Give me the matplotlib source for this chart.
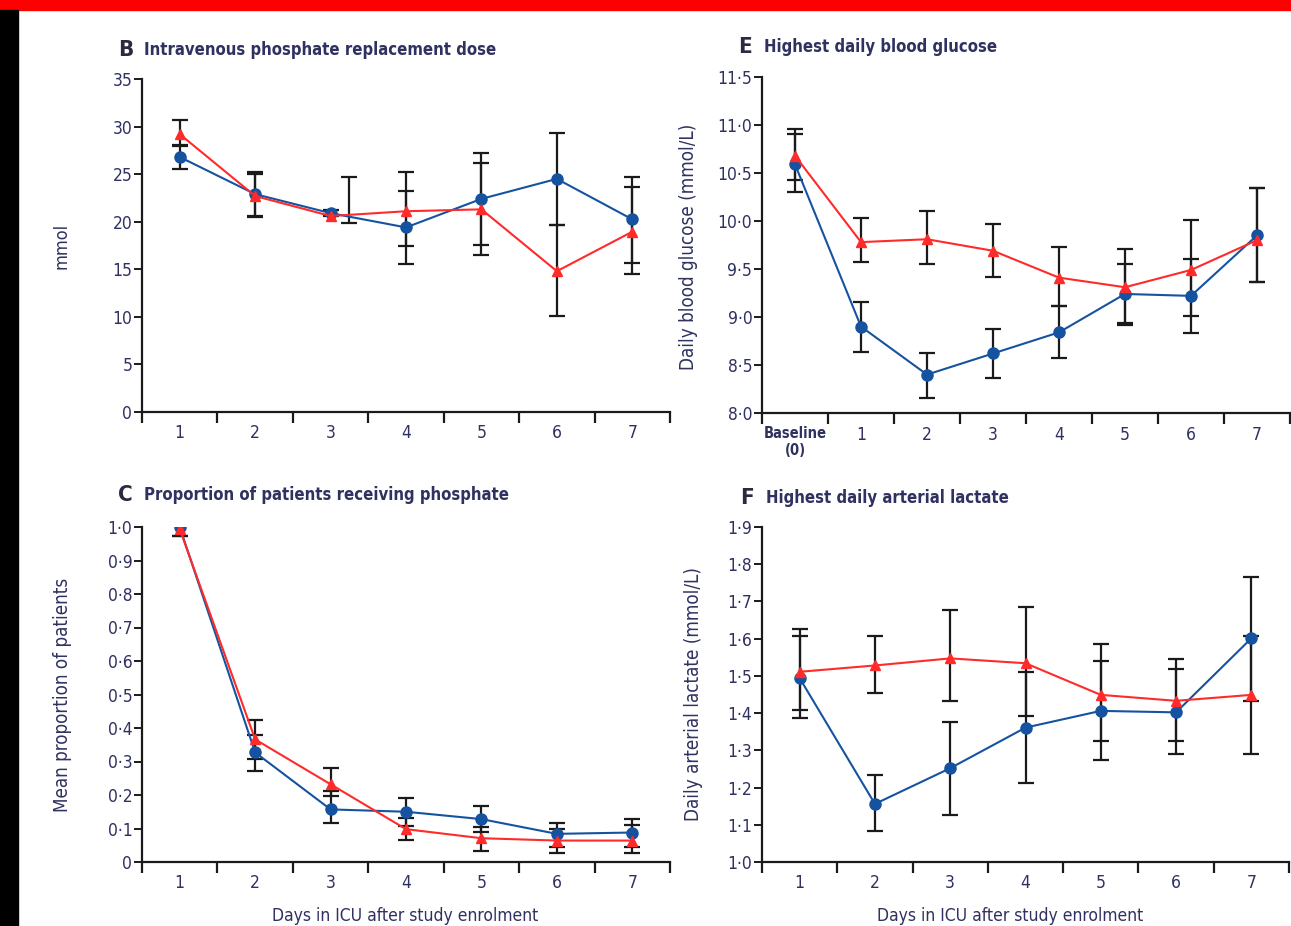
import numpy as np
import matplotlib
matplotlib.use("Agg")
import matplotlib.pyplot as plt
from matplotlib.patches import Rectangle
from matplotlib.ticker import FixedLocator, FuncFormatter

plt.rcParams["font.family"] = ["DejaVu Sans"]
plt.rcParams["font.stretch"] = "condensed"

BLUE = "#1553a0"
RED = "#ff2a2a"
TXT = "#2f3160"

# ---------- data ---------------------------------------------------------
days = [1, 2, 3, 4, 5, 6, 7]
days_e = [0, 1, 2, 3, 4, 5, 6, 7]
e_labels = ["Baseline\n(0)", "1", "2", "3", "4", "5", "6", "7"]

# B  Intravenous phosphate replacement dose (mmol)
b_blue = [26.8, 22.9, 20.9, 19.4, 22.4, 24.5, 20.25]
b_blue_lo = [25.5, 20.6, 20.6, 15.6, 17.6, 19.7, 15.7]
b_blue_hi = [28.1, 25.2, 21.2, 23.2, 27.2, 29.3, 24.7]
b_red = [29.2, 22.7, 20.6, 21.1, 21.3, 14.8, 18.95]
b_red_lo = [28.0, 20.5, 19.9, 17.4, 16.5, 10.1, 14.5]
b_red_hi = [30.7, 25.0, 24.7, 25.2, 26.2, 19.7, 23.6]
b_red_dx = [0, 0, 0.25, 0, 0, 0, 0]

# E  Highest daily blood glucose (mmol/L)
e_blue = [10.59, 8.90, 8.40, 8.62, 8.84, 9.24, 9.22, 9.85]
e_blue_lo = [10.30, 8.64, 8.16, 8.36, 8.57, 8.94, 8.83, 9.36]
e_blue_hi = [10.905, 9.16, 8.63, 8.87, 9.11, 9.555, 9.60, 10.34]
e_red = [10.68, 9.78, 9.81, 9.69, 9.41, 9.31, 9.49, 9.80]
e_red_lo = [10.43, 9.575, 9.555, 9.42, 9.11, 8.92, 9.007, 9.36]
e_red_hi = [10.957, 10.03, 10.10, 9.97, 9.727, 9.71, 10.015, 10.34]

# C  Proportion of patients receiving phosphate
c_blue = [1.0, 0.327, 0.157, 0.150, 0.128, 0.084, 0.088]
c_blue_lo = [0.973, 0.273, 0.117, 0.107, 0.090, 0.046, 0.046]
c_blue_hi = [1.019, 0.379, 0.213, 0.190, 0.167, 0.115, 0.127]
c_red = [0.994, 0.366, 0.232, 0.098, 0.071, 0.064, 0.064]
c_red_lo = [0.973, 0.308, 0.197, 0.066, 0.034, 0.028, 0.028]
c_red_hi = [1.019, 0.424, 0.2795, 0.130, 0.105, 0.100, 0.110]

# F  Highest daily arterial lactate (mmol/L)
f_blue = [1.494, 1.156, 1.252, 1.361, 1.406, 1.402, 1.601]
f_blue_lo = [1.386, 1.082, 1.126, 1.211, 1.274, 1.290, 1.433]
f_blue_hi = [1.607, 1.234, 1.377, 1.511, 1.540, 1.518, 1.767]
f_red = [1.511, 1.528, 1.547, 1.534, 1.449, 1.433, 1.449]
f_red_lo = [1.408, 1.455, 1.433, 1.392, 1.326, 1.326, 1.290]
f_red_hi = [1.625, 1.607, 1.677, 1.686, 1.585, 1.545, 1.607]


def lancet_fmt(decimals):
    def f(v, pos):
        if abs(v) < 1e-9:
            return "0"
        return f"{v:.{decimals}f}".replace(".", "\u00b7")
    return FuncFormatter(f)


def draw_panel(ax, x, blue, blo, bhi, red, rlo, rhi, rdx=None):
    x = np.asarray(x, dtype=float)
    blue, blo, bhi = map(np.asarray, (blue, blo, bhi))
    red, rlo, rhi = map(np.asarray, (red, rlo, rhi))
    rx = x + (np.asarray(rdx) if rdx is not None else 0)
    ax.errorbar(x, blue, yerr=[blue - blo, bhi - blue], fmt="none", ecolor="#1a1a1a",
                elinewidth=1.6, capsize=5.5, capthick=1.6, zorder=2)
    ax.errorbar(rx, red, yerr=[red - rlo, rhi - red], fmt="none", ecolor="#1a1a1a",
                elinewidth=1.6, capsize=5.5, capthick=1.6, zorder=2)
    ax.plot(x, blue, color=BLUE, lw=1.5, marker="o", ms=8, mec=BLUE, mfc=BLUE, zorder=3)
    ax.plot(x, red, color=RED, lw=1.5, marker="^", ms=7, mec=RED, mfc=RED, zorder=4)


def style_axes(ax, xmin, xmax, ymin, ymax, ystep, decimals, cats, labels):
    ax.set_xlim(xmin, xmax)
    ax.set_ylim(ymin, ymax)
    for s in ("top", "right"):
        ax.spines[s].set_visible(False)
    for s in ("left", "bottom"):
        ax.spines[s].set_linewidth(1.6)
        ax.spines[s].set_color("#1a1a1a")
    ax.yaxis.set_major_locator(FixedLocator(np.arange(ymin, ymax + ystep / 2, ystep)))
    ax.yaxis.set_major_formatter(lancet_fmt(decimals))
    ax.tick_params(axis="y", direction="out", length=6, width=1.4, colors="#1a1a1a",
                   labelcolor=TXT, labelsize=12.5, pad=1)
    ax.xaxis.set_major_locator(FixedLocator(np.arange(xmin, xmax + 0.01, 1.0)))
    ax.xaxis.set_major_formatter(FuncFormatter(lambda v, p: ""))
    ax.xaxis.set_minor_locator(FixedLocator(cats))
    ax.set_xticklabels(labels, minor=True)
    ax.tick_params(axis="x", which="major", direction="out", length=8, width=1.6, colors="#1a1a1a")
    ax.tick_params(axis="x", which="minor", length=0, pad=9, labelcolor=TXT, labelsize=12.5)
    ax.set_facecolor("white")


fig = plt.figure(figsize=(12.91, 9.26), dpi=100)
fig.patch.set_facecolor("white")
H = 926.0
W = 1291.0

# decoration: red band on top, black strip at the left
fig.patches.append(Rectangle((0, 1 - 10 / H), 1, 10 / H, transform=fig.transFigure,
                             color="#ff0000", zorder=0))
fig.patches.append(Rectangle((0, 0), 18 / W, 1 - 10 / H, transform=fig.transFigure,
                             color="black", zorder=0))

axB = fig.add_axes([142 / W, 1 - 412 / H, 528 / W, 333 / H])
axE = fig.add_axes([762 / W, 1 - 413 / H, 528 / W, 336 / H])
axC = fig.add_axes([142 / W, 1 - 862 / H, 528 / W, 335 / H])
axF = fig.add_axes([762 / W, 1 - 862 / H, 527 / W, 335 / H])

# B
draw_panel(axB, days, b_blue, b_blue_lo, b_blue_hi, b_red, b_red_lo, b_red_hi, b_red_dx)
style_axes(axB, 0.5, 7.5, 0, 35, 5, 0, days, [str(d) for d in days])
axB.set_ylabel("mmol", fontsize=13, color=TXT)
axB.yaxis.set_label_coords(-0.136, 0.5)

# E
draw_panel(axE, days_e, e_blue, e_blue_lo, e_blue_hi, e_red, e_red_lo, e_red_hi)
style_axes(axE, -0.5, 7.5, 8.0, 11.5, 0.5, 1, days_e, e_labels)
for lab in axE.get_xticklabels(minor=True)[:1]:
    lab.set_fontsize(10.5)
    lab.set_fontweight("bold")
axE.set_ylabel("Daily blood glucose (mmol/L)", fontsize=13.5, color=TXT)
axE.yaxis.set_label_coords(-0.121, 0.495)

# C
draw_panel(axC, days, c_blue, c_blue_lo, c_blue_hi, c_red, c_red_lo, c_red_hi)
style_axes(axC, 0.5, 7.5, 0, 1.0, 0.1, 1, days, [str(d) for d in days])
axC.set_ylabel("Mean proportion of patients", fontsize=13.5, color=TXT)
axC.yaxis.set_label_coords(-0.1326, 0.5)
axC.set_xlabel("Days in ICU after study enrolment", fontsize=12.5, color=TXT)
axC.xaxis.set_label_coords(0.498, -0.135)

# F
draw_panel(axF, days, f_blue, f_blue_lo, f_blue_hi, f_red, f_red_lo, f_red_hi)
style_axes(axF, 0.5, 7.5, 1.0, 1.9, 0.1, 1, days, [str(d) for d in days])
axF.set_ylabel("Daily arterial lactate (mmol/L)", fontsize=13.5, color=TXT)
axF.yaxis.set_label_coords(-0.112, 0.5)
axF.set_xlabel("Days in ICU after study enrolment", fontsize=12.5, color=TXT)
axF.xaxis.set_label_coords(0.47, -0.135)

# panel titles
titles = [
    (118, 50, "B", "Intravenous phosphate replacement dose"),
    (738, 47, "E", "Highest daily blood glucose"),
    (118, 495, "C", "Proportion of patients receiving phosphate"),
    (740, 498, "F", "Highest daily arterial lactate"),
]
for x, y, letter, text in titles:
    fig.text(x / W, 1 - y / H, letter, fontsize=16, fontweight="bold", color="#2a2a40",
             va="center", ha="left")
    fig.text((x + 26) / W, 1 - y / H, text, fontsize=12, fontweight="bold", color=TXT,
             va="center", ha="left")

fig.savefig("out.png", dpi=100, facecolor="white")
